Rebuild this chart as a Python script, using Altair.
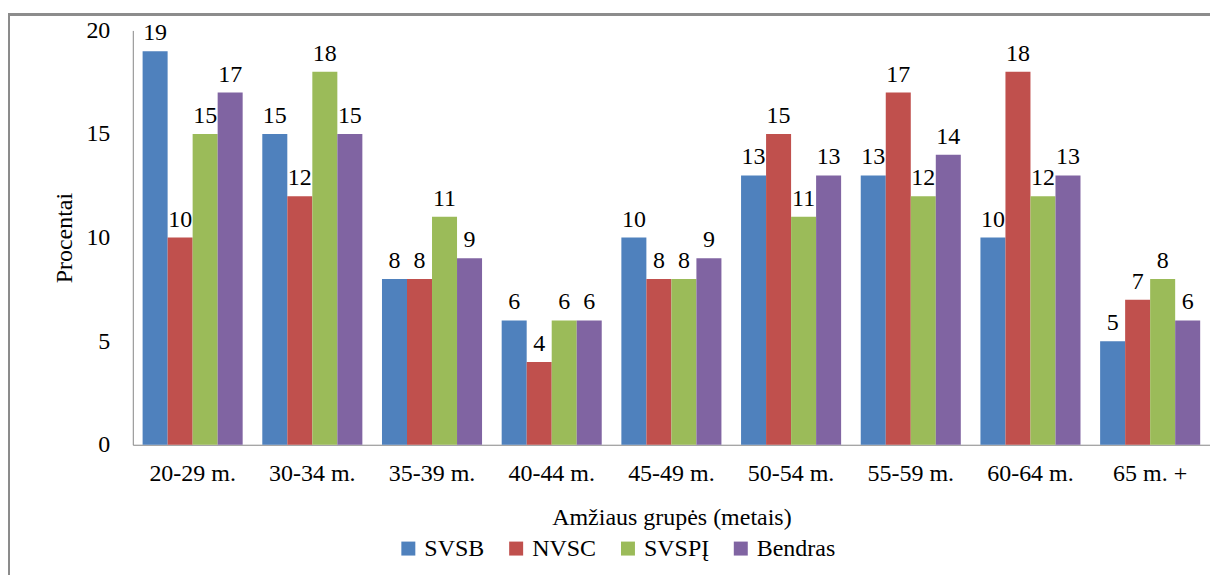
import altair as alt
import pandas as pd

categories = ["20-29 m.", "30-34 m.", "35-39 m.", "40-44 m.", "45-49 m.",
              "50-54 m.", "55-59 m.", "60-64 m.", "65 m. +"]
series = ["SVSB", "NVSC", "SVSPĮ", "Bendras"]
svsb = [19, 15, 8, 6, 10, 13, 13, 10, 5]
nvsc = [10, 12, 8, 4, 8, 15, 17, 18, 7]
svspi = [15, 18, 11, 6, 8, 11, 12, 12, 8]
bendras = [17, 15, 9, 6, 9, 13, 14, 13, 6]
colors = ["#4F81BD", "#C0504D", "#9BBB59", "#8064A2"]

rows = []
for s, vals in zip(series, [svsb, nvsc, svspi, bendras]):
    for c, v in zip(categories, vals):
        rows.append({"grupe": c, "serija": s, "value": v})
df = pd.DataFrame(rows)

FONT = "Liberation Serif"
FS = 24
W, H = 1079, 415

x = alt.X("grupe:N", sort=categories, title="Amžiaus grupės (metais)",
          scale=alt.Scale(paddingInner=0.164, paddingOuter=0.082),
          axis=alt.Axis(labelAngle=0, ticks=False, domainColor="#868686",
                        labelPadding=17, titlePadding=20, labelFontSize=FS,
                        titleFontSize=FS, titleFontWeight="normal",
                        labelFont=FONT, titleFont=FONT))
y = alt.Y("value:Q", title="Procentai",
          scale=alt.Scale(domain=[0, 20], nice=False),
          axis=alt.Axis(values=[0, 5, 10, 15, 20], grid=False, ticks=False,
                        domainColor="#868686", labelPadding=23, titlePadding=9,
                        labelFontSize=FS, titleFontSize=FS, titleFontWeight="normal",
                        labelFont=FONT, titleFont=FONT))
xo = alt.XOffset("serija:N", sort=series)
color = alt.Color("serija:N", sort=series, title=None,
                  scale=alt.Scale(domain=series, range=colors),
                  legend=alt.Legend(orient="none", direction="horizontal",
                                    legendX=264, legendY=507,
                                    symbolType="square", symbolSize=196,
                                    symbolStrokeWidth=0, labelFontSize=FS,
                                    labelFont=FONT, columnPadding=19,
                                    labelOffset=4))

bars = alt.Chart(df).mark_bar().encode(x=x, y=y, xOffset=xo, color=color)
labels = alt.Chart(df).mark_text(baseline="bottom", dy=-6, fontSize=FS,
                                 font=FONT, color="black").encode(
    x=alt.X("grupe:N", sort=categories), y="value:Q", xOffset=xo,
    text="value:Q")

frame_left = alt.Chart(df).mark_rule(color="#8c8c8c", strokeWidth=1.5).encode(
    x=alt.value(-124.2), y=alt.value(-16), y2=alt.value(H + 200))
frame_top = alt.Chart(df).mark_rule(color="#8c8c8c", strokeWidth=1.5).encode(
    x=alt.value(-125), x2=alt.value(W + 100), y=alt.value(-16))

chart = alt.layer(bars, labels, frame_left, frame_top).properties(
    width=W, height=H,
    autosize=alt.AutoSizeParams(type="none"),
    padding={"left": 125, "top": 22, "right": 0, "bottom": 130},
).configure(font=FONT).configure_view(stroke=None).configure_axis(
    labelColor="black", titleColor="black"
)

chart.save("out.html", embed_options={"renderer": "svg", "actions": False})
